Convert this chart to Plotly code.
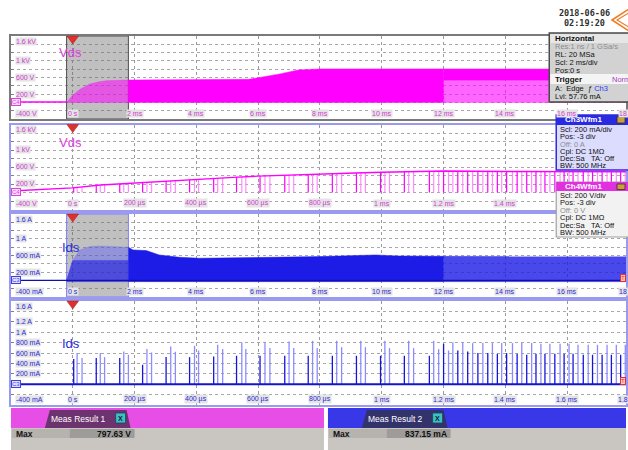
import plotly.graph_objects as go

W, H = 628, 450

# ------------------------------------------------------------------ data
full_range_ms = [-2.0, 17.903]          # panels 1 & 3 (2 ms/div)
zoom_range_us = [-200.0, 1790.3]        # panels 2 & 4 (200 us/div)
zoom_window_ms = [-0.2, 1.8]            # window enlarged in panels 2 & 4
sparse_from_ms = 12.0                   # switching becomes sparse after this
trigger_level_mA = 57.76

# Panel 1 - Vds (Ch4) envelope of the switching waveform [V]
vds_full_t   = [-0.2, 0.0, 0.23, 0.55, 0.87, 1.09, 1.8, 4.0, 5.7, 6.7, 7.3, 8.0, 10.0, 12.0, 14.0, 16.0, 17.9]
vds_full_top = [0, 175, 313, 442, 498, 523, 540, 545, 556, 685, 782, 806, 806, 806, 800, 802, 800]
vds_full_low = 0
vds_dense_below = 540
vds_idle_t = [-2.0, -0.2]
vds_idle_v = [10, 10]

# Panel 3 - Ids (Ch3) envelope of the switching waveform [mA]
ids_full_t   = [-0.2, 0.0, 0.23, 0.55, 0.87, 1.73, 1.8, 1.95, 2.38, 2.8, 3.45, 4.1, 8.0, 9.8, 10.5, 12.0, 14.0, 17.9]
ids_full_top = [0, 490, 735, 815, 831, 815, 800, 735, 718, 613, 557, 533, 573, 613, 590, 580, 575, 575]
ids_full_low = -30
ids_core_top = 480

# Panel 2 - Vds off-state trace [us, V]
vds_zoom_t = [-200, 0, 90, 180, 300, 400, 520, 600, 730, 800, 915, 1000, 1140, 1200, 1400, 1790]
vds_zoom_v = [35, 110, 175, 215, 270, 315, 355, 385, 420, 435, 460, 475, 495, 505, 495, 490]

# Switching events in the zoom window [us]
evt_t = [3, 14, 30, 76, 89, 103, 152, 165, 180, 226, 240, 255, 302, 317, 332,
         378, 394, 407, 456, 469, 485, 530, 547, 560, 606, 622, 638, 686, 700, 715,
         762, 776, 791, 840, 854, 870, 918, 932, 947, 996, 1010, 1025, 1073, 1087, 1103,
         1154, 1168, 1184, 1200, 1216, 1230, 1246, 1262, 1278, 1294,
         1311, 1327, 1343, 1358, 1374, 1388, 1404, 1423, 1438, 1453,
         1469, 1485, 1499, 1515, 1528, 1544, 1560, 1577, 1590, 1606,
         1619, 1635, 1652, 1668, 1682, 1698, 1713, 1729, 1743, 1759, 1773, 1788]
# Ids peak of each event [mA] (panel 4)
ids_peak = [483, 598, 502, 502, 598, 521, 502, 629, 566, 373, 675, 610, 521, 725, 623,
            521, 738, 648, 534, 758, 675, 547, 802, 675, 547, 802, 694, 547, 822, 694,
            547, 834, 694, 547, 834, 713, 547, 834, 713, 547, 834, 694, 547, 834, 694,
            547, 834, 675, 777, 648, 808, 648, 808, 629, 790,
            598, 790, 598, 790, 585, 790, 598, 790, 585, 790,
            566, 790, 585, 777, 585, 777, 585, 777, 585, 777,
            585, 758, 566, 758, 566, 758, 566, 758, 566, 758, 566, 758]
# Vds level each event falls from [V] (panel 2)
vds_evt_top = [115, 118, 125, 165, 170, 180, 205, 210, 215, 235, 240, 250, 270, 280, 285,
               305, 310, 315, 335, 340, 345, 360, 365, 370, 385, 390, 395, 405, 410, 415,
               425, 430, 435, 445, 450, 455, 460, 462, 465, 475, 478, 480, 485, 488, 490,
               500, 502, 505, 503, 500, 498, 500, 502, 500, 498,
               500, 497, 495, 497, 495, 493, 495, 497, 495, 493,
               495, 495, 493, 495, 497, 495, 493, 495, 495, 493,
               495, 497, 495, 493, 495, 495, 493, 495, 495, 493, 495, 495]
# d = bright trace, l = faint trace
evt_shade = "dll" * 15 + "dlldlldldl" + "dl" * 16

# Axis tick labels
vds_tick_vals = [1600, 1000, 600, 200, -400]
vds_tick_text = ["1.6 kV", "1 kV", "600 V", "200 V", "-400 V"]
ids_full_tick_vals = [1600, 1000, 600, 200, -400]
ids_full_tick_text = ["1.6 A", "1 A", "600 mA", "200 mA", "-400 mA"]
ids_zoom_tick_vals = [1600, 1200, 1000, 800, 600, 400, 200, -400]
ids_zoom_tick_text = ["1.6 A", "1.2 A", "1 A", "800 mA", "600 mA", "400 mA", "200 mA", "-400 mA"]
full_x_vals = [0, 2, 4, 6, 8, 10, 12, 14, 16, 18]
full_x_text = ["0 s", "2 ms", "4 ms", "6 ms", "8 ms", "10 ms", "12 ms", "14 ms", "16 ms", "18 ms"]
zoom_x_vals = [0, 200, 400, 600, 800, 1000, 1200, 1400, 1600, 1800]
zoom_x_text = ["0 s", "200 µs", "400 µs", "600 µs", "800 µs", "1 ms", "1.2 ms", "1.4 ms", "1.6 ms", "1.8 ms"]

# Info panel texts
date_text = ["2018-06-06", "02:19:20"]
horiz_rows = ["Res:1 ns / 1 GSa/s", "RL: 20 MSa", "Scl: 2 ms/div", "Pos:0 s"]
trig_rows = ["A:  Edge  ƒ <span style='color:#2a3cff'>Ch3</span>", "Lvl: 57.76 mA"]
ch3_rows = ["Scl: 200 mA/div", "Pos: -3 div", "Off: 0 A", "Cpl: DC 1MΩ", "Dec:Sa", "BW: 500 MHz"]
ch4_rows = ["Scl: 200 V/div", "Pos: -3 div", "Off: 0 V", "Cpl: DC 1MΩ", "Dec:Sa", "BW: 500 MHz"]
meas_names = ["Meas Result 1", "Meas Result 2"]
meas_label = ["Max", "Max"]
meas_value = ["797.63 V", "837.15 mA"]

# ------------------------------------------------------------------ style
MAG = "#ff00ff"
BLU = "#1c1ce6"
FONT = "Liberation Sans"
LEFT = 11
panels = {
    1: dict(top=36, bot=119, xr=full_range_ms, dt=2, border="#7a7a7a"),
    2: dict(top=124.5, bot=209.5, xr=zoom_range_us, dt=200, border="#9a9af0"),
    3: dict(top=214, bot=297, xr=full_range_ms, dt=2, border="#9a9af0"),
    4: dict(top=301, bot=405, xr=zoom_range_us, dt=200, border="#9a9af0"),
}


def px(x):
    return x / W


def py(y):
    return 1 - y / H


def sfx(i):
    return "" if i == 1 else str(i)


fig = go.Figure()
shapes, annos = [], []


def add(tr, i):
    tr.update(xaxis="x" + sfx(i), yaxis="y" + sfx(i), hoverinfo="skip", showlegend=False)
    fig.add_trace(tr)


def band(t, lo, hi, color, i):
    xs = list(t) + list(t)[::-1]
    ys = list(hi) + list(lo)[::-1]
    add(go.Scatter(x=xs, y=ys, mode="lines", fill="toself", fillcolor=color,
                   line=dict(color=color, width=0.5)), i)


def pick(t, vals, lo, hi):
    idx = [k for k, v in enumerate(t) if lo <= v <= hi]
    return [t[k] for k in idx], [vals[k] for k in idx]


# ---------------- panel 1
add(go.Scatter(x=vds_idle_t, y=vds_idle_v, mode="lines", line=dict(color=MAG, width=1.5)), 1)
t, v = pick(vds_full_t, vds_full_top, zoom_window_ms[0], zoom_window_ms[1])
band(t, [vds_full_low] * len(t), v, "rgba(255,0,255,0.55)", 1)
t, v = pick(vds_full_t, vds_full_top, zoom_window_ms[1], sparse_from_ms)
band(t, [vds_full_low] * len(t), v, MAG, 1)
t, v = pick(vds_full_t, vds_full_top, sparse_from_ms, 99)
band(t, [vds_full_low] * len(t), [vds_dense_below] * len(t), "rgba(255,0,255,0.6)", 1)
band(t, [vds_dense_below] * len(t), v, MAG, 1)

# ---------------- panel 3
t, v = pick(ids_full_t, ids_full_top, zoom_window_ms[0], zoom_window_ms[1])
core = [min(a, ids_core_top) for a in v]
band(t, [ids_full_low] * len(t), core, "rgba(28,28,230,0.7)", 3)
band(t, core, v, "rgba(80,80,255,0.4)", 3)
t, v = pick(ids_full_t, ids_full_top, zoom_window_ms[1], sparse_from_ms)
band(t, [ids_full_low] * len(t), v, BLU, 3)
t, v = pick(ids_full_t, ids_full_top, sparse_from_ms, 99)
band(t, [ids_full_low] * len(t), v, "rgba(28,28,230,0.8)", 3)
add(go.Scatter(x=full_range_ms, y=[0, 0], mode="lines", line=dict(color="#1010b0", width=1.2)), 3)

# ---------------- panel 2 & 4 event lines
for shade, cm, cb in (("l", "#ff8cff", "#8c8cff"), ("d", MAG, "#1414e0")):
    xv, yv, xi, yi = [], [], [], []
    for tt, top, pk, s in zip(evt_t, vds_evt_top, ids_peak, evt_shade):
        if s != shade:
            continue
        xv += [tt, tt, None]
        yv += [0, top, None]
        xi += [tt, tt, None]
        yi += [0, pk, None]
    add(go.Scatter(x=xv, y=yv, mode="lines", line=dict(color=cm, width=1.2)), 2)
    add(go.Scatter(x=xi, y=yi, mode="lines", line=dict(color=cb, width=1.3)), 4)
add(go.Scatter(x=vds_zoom_t, y=vds_zoom_v, mode="lines", line=dict(color=MAG, width=1.4)), 2)
add(go.Scatter(x=zoom_range_us, y=[0, 0], mode="lines", line=dict(color="#1414c8", width=2)), 4)

# ---------------- axes
layout = dict(width=W, height=H, margin=dict(l=0, r=0, t=0, b=0),
              paper_bgcolor="white", plot_bgcolor="white", showlegend=False)
for i, p in panels.items():
    s = sfx(i)
    layout["xaxis" + s] = dict(domain=[LEFT / W, 1], range=p["xr"], anchor="y" + s,
                               tick0=0, dtick=p["dt"], showgrid=True, gridcolor="#9a9a9a",
                               griddash="dot", gridwidth=1, showticklabels=False,
                               zeroline=False, showline=True, mirror=True,
                               linecolor=p["border"], linewidth=1.5, fixedrange=True)
    layout["yaxis" + s] = dict(domain=[1 - p["bot"] / H, 1 - p["top"] / H], range=[-400, 1600],
                               anchor="x" + s, tick0=0, dtick=200, showgrid=True,
                               gridcolor="#a8a8a8", griddash="dot", gridwidth=1,
                               showticklabels=False, zeroline=False, showline=True,
                               mirror=True, linecolor=p["border"], linewidth=1.5,
                               ticks="inside", ticklen=3, tickcolor="#808080", fixedrange=True)

# zoom boxes in panels 1 and 3
for i, lc in ((1, "#505050"), (3, "#8080ff")):
    shapes.append(dict(type="rect", xref="x" + sfx(i), yref="y" + sfx(i),
                       x0=zoom_window_ms[0], x1=zoom_window_ms[1], y0=-400, y1=1600,
                       fillcolor="rgba(105,105,105,0.42)", line=dict(color=lc, width=1),
                       layer="between"))

# trigger triangles
for i, p in panels.items():
    hw = (0.19 if p["dt"] == 2 else 19)
    shapes.append(dict(type="path", xref="x" + sfx(i), yref="y" + sfx(i) + " domain",
                       path=f"M {-hw} 1 L {hw} 1 L 0 {1 - 8 / (p['bot'] - p['top']):.4f} Z",
                       fillcolor="#e0302a", line=dict(color="#a02020", width=0.5), layer="above"))

# tick label annotations
LBL_BG = "#e4e4e4"


def ylabels(i, vals, texts, color):
    for v, tx in zip(vals, texts):
        ya = "top" if v == 1600 else ("bottom" if v == -400 else "middle")
        annos.append(dict(xref="paper", yref="y" + sfx(i), x=px(15), y=v, xanchor="left",
                          yanchor=ya, text=tx, showarrow=False, bgcolor=LBL_BG, borderpad=0,
                          yshift=(-1 if ya == "top" else (1 if ya == "bottom" else 0)),
                          font=dict(family=FONT, size=7, color=color)))


def xlabels(i, vals, texts, color):
    p = panels[i]
    r0, r1 = p["xr"]
    for v, tx in zip(vals, texts):
        x = min(v, r1)
        shift = (v - x) / (r1 - r0) * (W - LEFT)
        annos.append(dict(xref="x" + sfx(i), yref="y" + sfx(i), x=x, y=-400, xshift=shift,
                          xanchor="center", yanchor="bottom", yshift=1, text=tx,
                          showarrow=False, bgcolor=LBL_BG, borderpad=0,
                          font=dict(family=FONT, size=7, color=color)))


CM, CB = "#d23cd2", "#2a2ad8"
ylabels(1, vds_tick_vals, vds_tick_text, CM)
ylabels(2, vds_tick_vals, vds_tick_text, CM)
ylabels(3, ids_full_tick_vals, ids_full_tick_text, CB)
ylabels(4, ids_zoom_tick_vals, ids_zoom_tick_text, CB)
xlabels(1, full_x_vals, full_x_text, CM)
xlabels(2, zoom_x_vals[:8], zoom_x_text[:8], CM)
xlabels(3, full_x_vals, full_x_text, CB)
xlabels(4, zoom_x_vals, zoom_x_text, CB)

# ground markers and trigger level markers
for i, tx, col, bg in ((1, "C4", "#e040e0", "#fbe0fb"), (2, "C4", "#e040e0", "#fbe0fb"),
                       (3, "C3", "#4040e0", "#e0e0fb"), (4, "C3", "#4040e0", "#e0e0fb")):
    annos.append(dict(xref="paper", yref="y" + sfx(i), x=px(LEFT), y=0, xanchor="left",
                      yanchor="middle", text=tx, showarrow=False, bgcolor=bg, bordercolor=col,
                      borderwidth=1, borderpad=0, font=dict(family=FONT, size=6, color=col)))
for i in (3, 4):
    annos.append(dict(xref="paper", yref="y" + sfx(i), x=1, y=trigger_level_mA, xanchor="right",
                      yanchor="middle", text="T", showarrow=False, bgcolor="#ffc8c8",
                      bordercolor="#e03030", borderwidth=1, borderpad=0,
                      font=dict(family=FONT, size=6, color="#e03030")))

# channel names
for x, y, tx, col in ((71, 53, "Vds", "#e040e0"), (71, 142, "Vds", "#e040e0"),
                      (71, 247, "Ids", "#2a2ae0"), (71, 343, "Ids", "#2a2ae0")):
    annos.append(dict(xref="paper", yref="paper", x=px(x), y=py(y), xanchor="center",
                      yanchor="middle", text=tx, showarrow=False,
                      font=dict(family=FONT, size=13, color=col)))


def rect(x0, y0, x1, y1, fill, line=None, lw=1):
    shapes.append(dict(type="rect", xref="paper", yref="paper", x0=px(x0), x1=px(x1),
                       y0=py(y1), y1=py(y0), fillcolor=fill,
                       line=dict(color=line if line else fill, width=lw if line else 0),
                       layer="above"))


def poly(pts, fill, line=None, lw=1):
    path = "M " + " L ".join(f"{px(a):.5f} {py(b):.5f}" for a, b in pts) + " Z"
    shapes.append(dict(type="path", xref="paper", yref="paper", path=path, fillcolor=fill,
                       line=dict(color=line if line else fill, width=lw if line else 0),
                       layer="above"))


def txt(x, y, s, size=7.5, color="#101010", bold=False, anchor="left", family=FONT):
    annos.append(dict(xref="paper", yref="paper", x=px(x), y=py(y), xanchor=anchor,
                      yanchor="middle", text=f"<b>{s}</b>" if bold else s, showarrow=False,
                      font=dict(family=family, size=size, color=color)))


# date and logo
txt(586, 13, date_text[0], size=8.5, bold=True, anchor="center", family="DejaVu Sans Mono", color="#303030")
txt(586, 23, date_text[1], size=8.5, bold=True, anchor="center", family="DejaVu Sans Mono", color="#303030")
poly([(614, 20), (634, 7), (654, 20), (634, 33)], "rgba(0,0,0,0)", "#f07a22", 1.6)
poly([(619, 20), (634, 11), (649, 20), (634, 29)], "rgba(0,0,0,0)", "#f07a22", 1.2)

# Horizontal / Trigger box
rect(551, 33, 632, 102, "#d2d2d2", "#4a4a4a", 1.5)
rect(552, 34, 631, 43, "#e6e6e6")
txt(555, 38.5, "Horizontal", bold=True, size=8)
for k, r in enumerate(horiz_rows):
    txt(555, 46.5 + 8 * k, r, color="#8c8c8c" if k == 0 else "#101010")
rect(552, 74, 631, 84, "#f4f4f4")
txt(555, 79, "Trigger", bold=True, size=8)
txt(612, 79, "Norm", color="#a040c0")
txt(555, 88.5, trig_rows[0])
txt(555, 96.5, trig_rows[1])

# Ch3 box
rect(558, 115, 632, 170, "#dcdcff", "#2a2ae0", 1.5)
rect(558, 115, 632, 125, "#2a2ae0")
txt(585, 120, "Ch3Wfm1", color="white", bold=True, anchor="center", size=8)
rect(619, 117, 627, 123, "#c8a040", "#403010", 0.8)
for k, r in enumerate(ch3_rows):
    txt(560, 129.5 + 7.3 * k, r, color="#8c8c8c" if k == 2 else "#101010")
txt(591, 129.5 + 7.3 * 4, "TA: Off")

# Ch4 box
rect(558, 182, 632, 237, "#f2f2f2", "#a0a0a0", 1.2)
rect(558, 182, 632, 191, "#e030e0")
txt(585, 186.5, "Ch4Wfm1", color="white", bold=True, anchor="center", size=8)
rect(619, 184, 627, 189.5, "#c8a040", "#403010", 0.8)
for k, r in enumerate(ch4_rows):
    txt(560, 195.5 + 7.4 * k, r, color="#8c8c8c" if k == 2 else "#101010")
txt(591, 195.5 + 7.4 * 4, "TA: Off")

# Measurement result bars
bars = [dict(x0=11, x1=325, col="#e64ee6", tab="#6c336e", t0=45, t1=131, cell=(12, 70, 135)),
        dict(x0=329, x1=628, col="#3838e8", tab="#33336c", t0=363, t1=449, cell=(330, 388, 452))]
for k, b in enumerate(bars):
    rect(b["x0"], 408, b["x1"], 428, b["col"])
    rect(b["x0"], 428, b["x1"], 450, "#c9c5c1")
    poly([(b["t0"], 428), (b["t0"] + 5, 410), (b["t1"] - 4, 410), (b["t1"], 428)], b["tab"])
    txt((b["t0"] + b["t1"] - 18) / 2, 419, meas_names[k], size=8.5, color="white", anchor="center")
    rect(b["t1"] - 15, 413, b["t1"] - 5, 423, "#3cc0c0", "#20406a", 0.8)
    txt(b["t1"] - 10, 418, "X", size=7, color="#102040", bold=True, anchor="center")
    c0, c1, c2 = b["cell"]
    rect(c0, 429, c1, 438, "#b6b2ae")
    rect(c1, 429, c2, 438, "#9e9c9a")
    txt(c0 + 2, 433.5, meas_label[k], size=8.5, bold=True)
    txt(c2 - 2, 433.5, meas_value[k], size=8.5, bold=True, anchor="right")

layout["shapes"] = shapes
layout["annotations"] = annos
fig.update_layout(**layout)
fig.write_html("out.html", config={"displayModeBar": False},
               post_script="document.body.style.margin='0px';")
